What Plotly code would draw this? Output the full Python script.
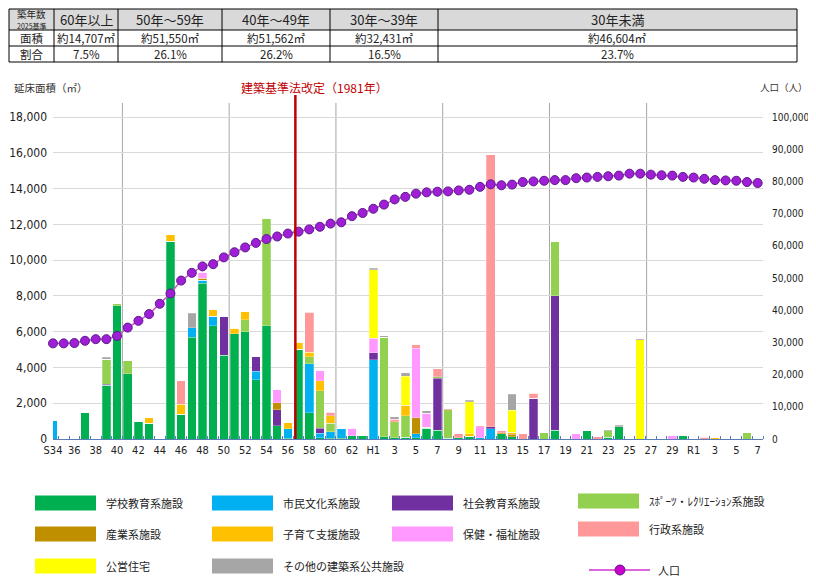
import plotly.graph_objects as go

# the page keeps an 8px margin round the plot, so the figure is 16px smaller
# and positions (given in pixels of the 816x588 picture) are shifted by PAD
W, H = 816, 588
PAD = 8
FIG_W, FIG_H = W - 2 * PAD, H - 2 * PAD

# --- data -------------------------------------------------------------
years = list(range(1959, 2026))  # S34 .. R7

tick_years = list(range(1959, 2026, 2))
tick_text = ["S34", "36", "38", "40", "42", "44", "46", "48", "50", "52", "54", "56",
             "58", "60", "62", "H1", "3", "5", "7", "9", "11", "13", "15", "17", "19",
             "21", "23", "25", "27", "29", "R1", "3", "5", "7"]

# floor area (m2) by building year, one list per facility type
school = [0, 0, 0, 1500, 0, 3000, 7460, 3640, 970, 880,
          0, 11050, 1380, 5700, 8720, 6330, 4690, 5880, 5990, 3300,
          6330, 750, 40, 5020, 1470, 60, 50, 40, 180, 205,
          0, 130, 80, 100, 80, 600, 500, 50, 60, 150,
          0, 0, 280, 130, 0, 0, 0, 485, 0, 0,
          500, 0, 90, 690, 0, 0, 0, 0, 0, 220,
          0, 0, 0, 0, 0, 0, 0]
culture = [1050, 0, 0, 0, 40, 0, 0, 0, 0, 0,
           0, 0, 0, 520, 150, 520, 0, 0, 0, 500,
           0, 0, 520, 0, 2730, 260, 360, 560, 0, 0,
           4420, 0, 0, 0, 220, 0, 0, 0, 0, 0,
           60, 560, 0, 0, 0, 0, 0, 0, 30, 0,
           0, 0, 0, 0, 0, 0, 0, 0, 0, 0,
           0, 0, 0, 0, 0, 0, 0]
social = [0, 0, 0, 0, 0, 60, 0, 0, 0, 0,
          0, 0, 0, 0, 0, 0, 2145, 0, 0, 800,
          0, 880, 0, 0, 0, 280, 0, 0, 0, 0,
          410, 0, 0, 0, 0, 0, 2895, 0, 0, 0,
          0, 130, 0, 0, 0, 2280, 0, 7525, 0, 0,
          0, 0, 0, 0, 0, 0, 0, 0, 0, 0,
          0, 0, 0, 0, 0, 0, 0]
sports = [0, 0, 0, 0, 0, 1400, 90, 730, 0, 0,
          0, 0, 0, 0, 0, 0, 0, 0, 670, 0,
          6010, 0, 0, 0, 410, 2110, 470, 0, 0, 0,
          0, 5570, 890, 1200, 0, 50, 90, 1580, 0, 0,
          0, 0, 0, 0, 0, 0, 355, 3010, 0, 0,
          0, 0, 380, 0, 0, 0, 0, 0, 0, 0,
          0, 0, 0, 0, 0, 350, 0]
industry = [0, 0, 0, 0, 0, 0, 0, 0, 0, 0,
            0, 0, 0, 0, 130, 0, 0, 0, 0, 0,
            0, 410, 0, 0, 0, 0, 0, 0, 0, 0,
            0, 0, 0, 0, 900, 0, 0, 0, 0, 0,
            0, 0, 80, 130, 0, 0, 0, 0, 0, 0,
            0, 0, 0, 0, 0, 0, 0, 0, 0, 0,
            0, 0, 0, 0, 0, 0, 0]
childcare = [0, 0, 0, 0, 0, 0, 0, 0, 0, 300,
             0, 380, 560, 0, 0, 380, 0, 320, 450, 0,
             0, 0, 350, 390, 245, 560, 430, 0, 0, 0,
             0, 0, 0, 600, 0, 0, 0, 0, 0, 150,
             0, 0, 0, 110, 0, 0, 0, 0, 0, 0,
             0, 0, 0, 0, 0, 0, 0, 0, 0, 0,
             0, 0, 80, 0, 0, 0, 0]
health = [0, 0, 0, 0, 0, 0, 0, 0, 0, 0,
          0, 0, 0, 0, 320, 0, 0, 0, 0, 0,
          0, 710, 0, 0, 0, 545, 0, 0, 420, 0,
          805, 0, 0, 0, 3880, 790, 0, 0, 0, 0,
          630, 0, 0, 0, 0, 0, 0, 0, 0, 300,
          0, 0, 0, 0, 0, 0, 0, 0, 170, 0,
          0, 0, 0, 0, 0, 0, 0]
admin = [0, 0, 0, 0, 0, 0, 0, 0, 0, 0,
         0, 0, 1330, 0, 0, 0, 0, 0, 0, 0,
         0, 0, 0, 0, 2220, 0, 190, 0, 0, 0,
         0, 0, 130, 0, 185, 0, 430, 60, 220, 0,
         60, 15210, 110, 0, 280, 280, 0, 0, 0, 0,
         0, 130, 0, 0, 0, 0, 0, 0, 0, 0,
         0, 90, 0, 0, 0, 0, 0]
housing = [0, 0, 0, 0, 0, 0, 0, 0, 0, 0,
           0, 0, 0, 0, 0, 0, 0, 0, 0, 0,
           0, 0, 0, 0, 0, 0, 0, 0, 0, 0,
           3830, 0, 0, 1620, 0, 0, 0, 0, 0, 1790,
           0, 0, 0, 1250, 0, 0, 0, 0, 0, 0,
           0, 0, 0, 0, 0, 5550, 0, 0, 0, 0,
           0, 0, 0, 0, 0, 0, 0]
other = [0, 0, 0, 0, 0, 110, 0, 0, 0, 0,
         0, 0, 0, 820, 0, 0, 0, 0, 0, 0,
         0, 0, 0, 0, 0, 0, 0, 0, 0, 0,
         90, 70, 150, 185, 0, 150, 0, 0, 0, 70,
         0, 0, 0, 880, 0, 0, 0, 0, 0, 0,
         0, 0, 60, 80, 0, 50, 0, 0, 0, 0,
         0, 0, 0, 0, 0, 0, 0]

# population (persons)
population = [29700, 29700, 29800, 30500, 31000, 31000, 32000, 34600, 36700, 38800,
              42000, 45200, 49200, 51600, 53600, 54300, 56400, 58000, 59500, 60900,
              62100, 62900, 63800, 64400, 65100, 65900, 66900, 67300, 69200, 70200,
              71500, 72800, 74400, 75200, 76200, 76600, 76800, 76900, 77200, 77400,
              78300, 79100, 78800, 79000, 79800, 80000, 80200, 80400, 80400, 81000,
              81200, 81400, 81600, 81800, 82400, 82400, 82100, 81900, 81800, 81400,
              81200, 80800, 80400, 80300, 80200, 79800, 79500]

series_names = ["学校教育系施設", "市民文化系施設", "社会教育系施設", "ｽﾎﾟｰﾂ・ﾚｸﾘｴｰｼｮﾝ系施設",
                "産業系施設", "子育て支援施設", "保健・福祉施設", "行政系施設",
                "公営住宅", "その他の建築系公共施設"]
series_values = [school, culture, social, sports, industry, childcare, health, admin,
                 housing, other]
series_colors = ["#00B050", "#00B0F0", "#7030A0", "#92D050", "#BF8F00", "#FFC000",
                 "#FF99FF", "#FF9999", "#FFFF00", "#A6A6A6"]

# age bands table
table_header = ["60年以上", "50年～59年", "40年～49年", "30年～39年", "30年未満"]
table_area = ["約14,707㎡", "約51,550㎡", "約51,562㎡", "約32,431㎡", "約46,604㎡"]
table_share = ["7.5%", "26.1%", "26.2%", "16.5%", "23.7%"]

section_lines = [1965.5, 1975.5, 1985.5, 1995.5, 2005.5, 2014.6]
law_year_line = 1981.7

FONT = "Noto Sans CJK JP"
NUM_FONT = "DejaVu Sans Condensed, Noto Sans CJK JP"


def px(x):
    return (x - PAD) / FIG_W


def py(y):
    return 1 - (y - PAD) / FIG_H


fig = go.Figure()

# stacked bars
for name, vals, col in zip(series_names, series_values, series_colors):
    fig.add_trace(go.Bar(
        x=years, y=vals, name=name,
        marker=dict(color=col, line=dict(color="rgba(255,255,255,0.5)", width=0.5)),
    ))

# population line on secondary axis
fig.add_trace(go.Scatter(
    x=years, y=population, name="人口", yaxis="y2",
    mode="lines+markers", cliponaxis=False,
    line=dict(color="#CC55CC", width=1.5),
    marker=dict(size=9, color="#9E1FD6", line=dict(color="#5E1A8A", width=1)),
))

shapes = []
annotations = []


def label(text, x, y, size=11, color="#222222", xanchor="center", family=FONT):
    annotations.append(dict(text=text, x=px(x), y=py(y), xref="paper", yref="paper",
                            xanchor=xanchor, yanchor="middle", showarrow=False,
                            font=dict(family=family, size=size, color=color)))


# table on top (drawn with shapes so the row heights stay exact)
tx = [9, 54, 118, 222, 330, 438, 797]
ty = [9, 30, 46, 62]
shapes.append(dict(type="rect", xref="paper", yref="paper", x0=px(tx[0]), x1=px(tx[-1]),
                   y0=py(ty[1]), y1=py(ty[0]), fillcolor="#D9D9D9", line=dict(width=0),
                   layer="below"))
for yv in ty:
    shapes.append(dict(type="line", xref="paper", yref="paper", x0=px(tx[0]), x1=px(tx[-1]),
                       y0=py(yv), y1=py(yv), line=dict(color="black", width=1)))
for xv in tx:
    shapes.append(dict(type="line", xref="paper", yref="paper", x0=px(xv), x1=px(xv),
                       y0=py(ty[0]), y1=py(ty[-1]), line=dict(color="black", width=1)))
label("築年数", 31.5, 14, size=9.5)
label("2025基準", 31.5, 25.5, size=7)
label("面積", 31.5, 38, size=11.5)
label("割合", 31.5, 54, size=11.5)
for i in range(5):
    xc = (tx[i + 1] + tx[i + 2]) / 2
    label(table_header[i], xc, 19.5, size=13)
    label(table_area[i], xc, 38, size=11.5)
    label(table_share[i], xc, 54, size=11.5)

for xv in section_lines:
    shapes.append(dict(type="line", xref="x", yref="paper", x0=xv, x1=xv,
                       y0=py(439), y1=py(103), line=dict(color="#A6A6A6", width=1),
                       layer="below"))
shapes.append(dict(type="line", xref="x", yref="paper", x0=law_year_line, x1=law_year_line,
                   y0=py(439), y1=py(95), line=dict(color="#C00000", width=2.5),
                   layer="above"))

label("延床面積（㎡）", 12, 87, size=10.5, color="#333333", xanchor="left")
label("人口（人）", 758, 87, size=9.5, color="#333333", xanchor="left")
label("建築基準法改定（1981年）", 314, 87, size=12, color="#C00000")

# hand-made legend (wide swatches in a 4-column grid)
col_x = [35, 212, 392, 578]
row_y = [[503, 534, 566], [503, 534, 566], [503, 534, 566], [501, 529, 570]]
for i, (name, col) in enumerate(zip(series_names, series_colors)):
    r, c = divmod(i, 4)
    yc = row_y[c][r]
    shapes.append(dict(type="rect", xref="paper", yref="paper",
                       x0=px(col_x[c]), x1=px(col_x[c] + 61),
                       y0=py(yc + 7.5), y1=py(yc - 7.5),
                       fillcolor=col, line=dict(width=0)))
    label(name, col_x[c] + 69, yc, size=11, xanchor="left")

yc = row_y[3][2]
shapes.append(dict(type="line", xref="paper", yref="paper", x0=px(589), x1=px(650),
                   y0=py(yc), y1=py(yc), line=dict(color="#DD66DD", width=2)))
shapes.append(dict(type="circle", xref="paper", yref="paper", x0=px(615), x1=px(625),
                   y0=py(yc + 5), y1=py(yc - 5), fillcolor="#CC00CC",
                   line=dict(color="#5E1A8A", width=1)))
label("人口", 656, yc, size=11, xanchor="left")

y_top = 18000 * (439 - 103) / (439 - 117)

fig.update_layout(
    width=FIG_W, height=FIG_H,
    margin=dict(l=0, r=0, t=0, b=0, autoexpand=False),
    paper_bgcolor="white", plot_bgcolor="white",
    barmode="stack", bargap=0.2,
    showlegend=False,
    font=dict(family=FONT, color="#222222"),
    xaxis=dict(domain=[px(53), px(763)], range=[1959, 2025.5], automargin=False,
               tickmode="array", tickvals=tick_years, ticktext=tick_text,
               showgrid=False, zeroline=False, showline=True,
               linecolor="#5B7DB8", linewidth=1, ticks="",
               minor=dict(ticks="inside", tick0=1958.5, dtick=1, ticklen=3,
                          tickcolor="#5B7DB8", showgrid=False),
               ticklabelstandoff=1,
               tickfont=dict(family=NUM_FONT, size=11, color="#222222")),
    yaxis=dict(domain=[py(439), py(103)], range=[0, y_top], automargin=False,
               tickmode="array", tickvals=list(range(0, 18001, 2000)),
               tickformat=",", showgrid=True, gridcolor="#D9D9D9", zeroline=False,
               ticklabelstandoff=5,
               tickfont=dict(family=NUM_FONT, size=12, color="#222222")),
    yaxis2=dict(overlaying="y", side="right", anchor="x", automargin=False,
                range=[0, y_top * 100000 / 18000],
                tickmode="array", tickvals=list(range(0, 100001, 10000)),
                tickformat=",", showgrid=False, zeroline=False,
                ticklabelstandoff=8,
                tickfont=dict(family=NUM_FONT, size=10, color="#222222")),
    shapes=shapes,
    annotations=annotations,
)

fig.write_html("out.html", config={"displayModeBar": False})
